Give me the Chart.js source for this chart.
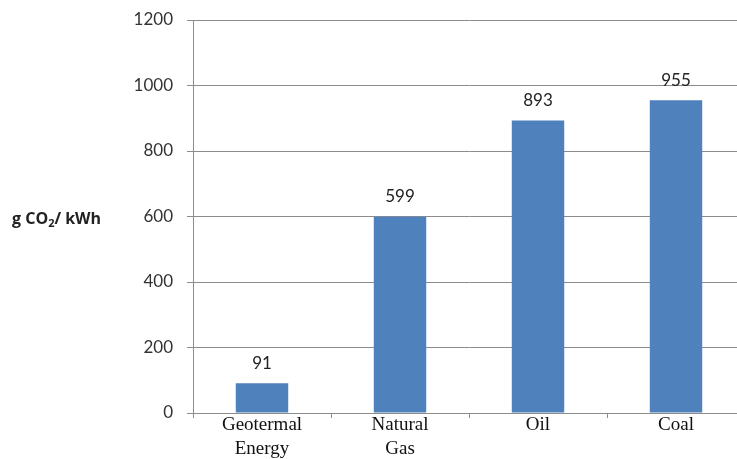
<!DOCTYPE html>
<html>
<head>
<meta charset="utf-8">
<script src="https://cdn.jsdelivr.net/npm/chart.js@4/dist/chart.umd.min.js"></script>
<style>
  html, body { margin: 0; padding: 0; background: #fff; overflow: hidden; }
  #wrap { width: 760px; height: 459px; }
</style>
</head>
<body>
<div id="wrap"><canvas id="grafico"></canvas></div>
<script>
// categorias e valores (g CO2 / kWh)
const categorias = [['Geotermal', 'Energy'], ['Natural', 'Gas'], 'Oil', 'Coal'];
const valores = [91, 599, 893, 955];
const ticksY = [0, 200, 400, 600, 800, 1000, 1200];

const cinza = '#8c8c8c';

// rótulos de valor acima das barras
const rotulosBarras = {
  id: 'rotulosBarras',
  afterDatasetsDraw(chart) {
    const ctx = chart.ctx;
    const meta = chart.getDatasetMeta(0);
    ctx.save();
    ctx.font = '17px Lato';
    ctx.fillStyle = '#222';
    ctx.textAlign = 'center';
    ctx.textBaseline = 'middle';
    meta.data.forEach((bar, i) => {
      ctx.fillText(String(valores[i]), bar.x, bar.y - 20);
    });
    ctx.restore();
  }
};

// título do eixo Y, horizontal, com o 2 subscrito
const tituloY = {
  id: 'tituloY',
  afterDraw(chart) {
    const ctx = chart.ctx;
    const y = 219;
    let x = 12;
    ctx.save();
    ctx.fillStyle = '#222';
    ctx.textBaseline = 'middle';
    ctx.font = 'bold 16px "Open Sans"';
    ctx.fillText('g CO', x, y);
    x += ctx.measureText('g CO').width;
    ctx.font = 'bold 11px "Open Sans"';
    ctx.fillText('2', x, y + 5);
    x += ctx.measureText('2').width;
    ctx.font = 'bold 16px "Open Sans"';
    ctx.fillText('/ kWh', x, y);
    ctx.restore();
  }
};

new Chart(document.getElementById('grafico'), {
  type: 'bar',
  data: {
    labels: categorias,
    datasets: [{
      data: valores,
      backgroundColor: '#4f81bd',
      borderWidth: 0,
      categoryPercentage: 1,
      barPercentage: 0.38
    }]
  },
  options: {
    responsive: true,
    maintainAspectRatio: false,
    animation: false,
    layout: { padding: { top: 20, right: 15, left: 0, bottom: 0 } },
    plugins: { legend: { display: false }, tooltip: { enabled: false } },
    scales: {
      x: {
        grid: { offset: true, drawOnChartArea: false, drawTicks: true, tickLength: 5, color: cinza },
        border: { color: cinza, width: 1 },
        ticks: {
          color: '#111',
          font: { family: '"Liberation Serif"', size: 19, lineHeight: 1.25 },
          padding: -5,
          maxRotation: 0,
          autoSkip: false
        },
        afterFit(scale) { scale.height = 46; }
      },
      y: {
        min: 0,
        max: 1200,
        afterBuildTicks(scale) { scale.ticks = ticksY.map(v => ({ value: v })); },
        afterFit(scale) { scale.width = 193; scale.paddingTop = 0; },
        grid: { color: cinza, tickLength: 6 },
        border: { color: cinza, width: 1 },
        ticks: {
          color: '#333',
          font: { family: 'Lato', size: 17 },
          padding: 14,
          callback: v => String(v)
        }
      }
    }
  },
  plugins: [rotulosBarras, tituloY]
});
</script>
</body>
</html>
